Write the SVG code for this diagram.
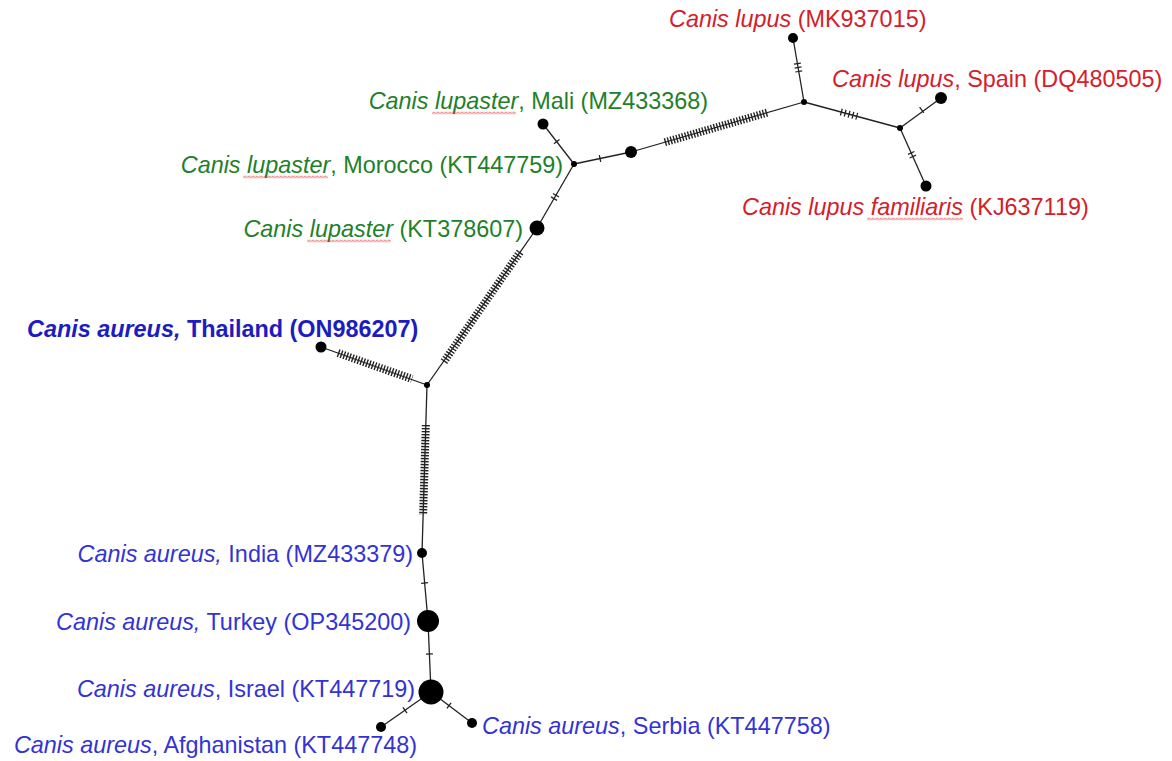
<svg xmlns="http://www.w3.org/2000/svg" width="1172" height="761" viewBox="0 0 1172 761">
<style>
.edge{stroke:#222;stroke-width:1.3;fill:none}
.hatch{stroke:#222;stroke-width:8;stroke-dasharray:1.4 1.6;fill:none}
.few{stroke:#222;stroke-width:7;stroke-dasharray:1.3 2.7;fill:none}
.tick{stroke:#222;stroke-width:7;fill:none}
.node{fill:#000}
text{font-family:"Liberation Sans",Arial,Helvetica,sans-serif;font-size:23.4px}
.red{fill:#d4202a}
.green{fill:#22802a}
.blue{fill:#3333d4}
.bold{fill:#1c1cbf;font-weight:bold}
.it{font-style:italic}
.end{text-anchor:end}
</style>
<defs>
<pattern id="wave" width="4" height="3" patternUnits="userSpaceOnUse">
<path d="M0,2.5 L2,0.5 L4,2.5" stroke="#e02828" stroke-width="1" fill="none"/>
</pattern>
</defs>
<rect width="1172" height="761" fill="#fff"/>
<g id="connectors">
<line class="edge" x1="793" y1="38" x2="804" y2="102"/>
<line class="edge" x1="804" y1="102" x2="900" y2="128"/>
<line class="edge" x1="900" y1="128" x2="941" y2="98"/>
<line class="edge" x1="900" y1="128" x2="926" y2="186"/>
<line class="edge" x1="804" y1="102" x2="631" y2="152"/>
<line class="edge" x1="631" y1="152" x2="574" y2="164"/>
<line class="edge" x1="574" y1="164" x2="543" y2="124"/>
<line class="edge" x1="574" y1="164" x2="537" y2="228"/>
<line class="edge" x1="537" y1="228" x2="427" y2="385"/>
<line class="edge" x1="321" y1="347" x2="427" y2="385"/>
<line class="edge" x1="427" y1="385" x2="422" y2="553"/>
<line class="edge" x1="422" y1="553" x2="428" y2="621"/>
<line class="edge" x1="428" y1="621" x2="431" y2="692"/>
<line class="edge" x1="431" y1="692" x2="381" y2="727"/>
<line class="edge" x1="431" y1="692" x2="472" y2="723"/>
<line class="few" x1="797.29" y1="62.97" x2="798.85" y2="72.03"/>
<line class="few" x1="840.7" y1="111.95" x2="857.3" y2="116.43"/>
<line class="tick" x1="921.18" y1="110.38" x2="922.22" y2="109.62"/>
<line class="few" x1="910.94" y1="152.33" x2="913.06" y2="157.07"/>
<line class="hatch" x1="767" y1="112.7" x2="664" y2="142.5"/>
<line class="tick" x1="600.64" y1="158.37" x2="599.36" y2="158.63"/>
<line class="tick" x1="557.1" y1="142.21" x2="556.3" y2="141.19"/>
<line class="few" x1="556.3" y1="194.65" x2="553.7" y2="199.15"/>
<line class="hatch" x1="520" y1="252" x2="443" y2="363"/>
<line class="hatch" x1="338" y1="353" x2="412" y2="379"/>
<line class="hatch" x1="425.8" y1="425" x2="423.1" y2="515"/>
<line class="tick" x1="424.54" y1="582.35" x2="424.66" y2="583.65"/>
<line class="tick" x1="429.37" y1="653.35" x2="429.43" y2="654.65"/>
<line class="tick" x1="405.53" y1="709.83" x2="404.47" y2="710.57"/>
<line class="tick" x1="448.48" y1="705.21" x2="449.52" y2="705.99"/>
</g>
<g id="j1"><circle class="node" cx="804" cy="102" r="3"/></g>
<g id="j2"><circle class="node" cx="900" cy="128" r="3"/></g>
<g id="j3"><circle class="node" cx="574" cy="164" r="3"/></g>
<g id="j4"><circle class="node" cx="427" cy="385" r="3"/></g>
<g id="hap-between"><circle class="node" cx="631" cy="152" r="6"/></g>
<g id="n-MK937015">
<circle class="node" cx="793" cy="38" r="5"/>
<text class="red" x="669" y="27"><tspan class="it">Canis lupus</tspan> (MK937015)</text>
</g>
<g id="n-DQ480505">
<circle class="node" cx="941" cy="98" r="6"/>
<text class="red" x="832" y="87"><tspan class="it">Canis lupus</tspan>, Spain (DQ480505)</text>
</g>
<g id="n-KJ637119">
<circle class="node" cx="926" cy="186" r="5.5"/>
<text class="red" x="742" y="215"><tspan class="it">Canis lupus familiaris</tspan> (KJ637119)</text>
<rect transform="translate(867,217.5)" width="96" height="3" fill="url(#wave)"/>
</g>
<g id="n-MZ433368">
<circle class="node" cx="543" cy="124" r="5.5"/>
<text class="green end" x="708" y="109"><tspan class="it">Canis lupaster</tspan>, Mali (MZ433368)</text>
<rect transform="translate(432,111.5)" width="84" height="3" fill="url(#wave)"/>
</g>
<g id="n-KT447759">
<text class="green end" x="563" y="173"><tspan class="it">Canis lupaster</tspan>, Morocco (KT447759)</text>
<rect transform="translate(243,175.5)" width="85" height="3" fill="url(#wave)"/>
</g>
<g id="n-KT378607">
<circle class="node" cx="537" cy="228" r="7.5"/>
<text class="green end" x="523" y="237"><tspan class="it">Canis lupaster</tspan> (KT378607)</text>
<rect transform="translate(307,239.5)" width="84" height="3" fill="url(#wave)"/>
</g>
<g id="n-ON986207">
<circle class="node" cx="321" cy="347" r="5.5"/>
<text class="bold" x="27" y="337"><tspan class="it">Canis aureus,</tspan> Thailand (ON986207)</text>
</g>
<g id="n-MZ433379">
<circle class="node" cx="422" cy="553" r="5"/>
<text class="blue end" x="413" y="562"><tspan class="it">Canis aureus,</tspan> India (MZ433379)</text>
</g>
<g id="n-OP345200">
<circle class="node" cx="428" cy="621" r="11"/>
<text class="blue end" x="411" y="630"><tspan class="it">Canis aureus,</tspan> Turkey (OP345200)</text>
</g>
<g id="n-KT447719">
<circle class="node" cx="431" cy="692" r="12.5"/>
<text class="blue end" x="415" y="697"><tspan class="it">Canis aureus</tspan>, Israel (KT447719)</text>
</g>
<g id="n-KT447748">
<circle class="node" cx="381" cy="727" r="5"/>
<text class="blue end" x="417" y="753"><tspan class="it">Canis aureus</tspan>, Afghanistan (KT447748)</text>
</g>
<g id="n-KT447758">
<circle class="node" cx="472" cy="723" r="5"/>
<text class="blue" x="482" y="734"><tspan class="it">Canis aureus</tspan>, Serbia (KT447758)</text>
</g>
</svg>
